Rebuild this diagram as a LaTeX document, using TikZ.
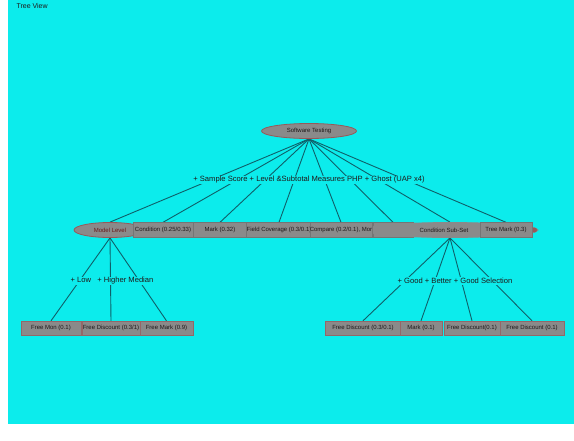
\documentclass[tikz,border=0pt]{standalone}
\usepackage{fontspec}
\setmainfont{Liberation Sans}
\usetikzlibrary{shapes.geometric}
\definecolor{bgcyan}{RGB}{12,236,236}
\definecolor{nodegray}{RGB}{138,138,138}
\definecolor{rimred}{RGB}{150,90,90}
\definecolor{edgeteal}{RGB}{15,95,105}
\definecolor{inkdark}{RGB}{30,25,25}
\definecolor{inkred}{RGB}{105,25,25}
\pgfdeclarelayer{back}
\pgfdeclarelayer{edges}
\pgfsetlayers{back,edges,main}
\tikzset{
  x=1pt, y=-1pt,
  txt/.style={font=\fontsize{7}{8}\selectfont, text=inkdark},
  ellnode/.style={ellipse, fill=nodegray, draw=rimred, line width=0.8pt,
    inner sep=0pt, minimum height=15pt, font=\fontsize{6}{7}\selectfont, text=inkred},
  boxnode/.style={rectangle, fill=nodegray, draw=nodegray!85!black, line width=0.4pt,
    inner sep=0pt, minimum height=15pt, font=\fontsize{6}{7}\selectfont, text=inkdark},
  leafnode/.style={boxnode, draw=rimred!70!nodegray, minimum height=14pt},
  edgelabel/.style={font=\fontsize{7.6}{9}\selectfont, text=inkdark, fill=bgcyan, inner sep=0.8pt},
  link/.style={draw=edgeteal, line width=0.9pt},
}
\begin{document}
\begin{tikzpicture}
\useasboundingbox (0,0) rectangle (574,440);
\begin{pgfonlayer}{back}
  \fill[white] (0,0) rectangle (574,440);
  \fill[bgcyan] (8,0) rectangle (574,424);
\end{pgfonlayer}

\node[txt, anchor=west] (title) at (13,6) {Tree View};

% root
\node[ellnode, minimum width=95pt, text=inkdark] (root) at (309,131) {Software Testing};

% first level: the wide ellipse and the hidden box go underneath
\node[boxnode, minimum width=40pt] (c5) at (393,230) {};
\node[ellnode, minimum width=176pt, draw=nodegray] (sub) at (450,230) {};
\fill[rimred] (sub.east) ++(-4,0) circle[radius=2.5pt];
\node[ellnode, minimum width=72pt] (model) at (110,230) {Model Level};
\node[boxnode, minimum width=60pt] (c1) at (163,230) {Condition (0.25/0.33)};
\node[boxnode, minimum width=54pt] (c2) at (220,230) {Mark (0.32)};
\node[boxnode, minimum width=64pt] (c3) at (279,230) {Field Coverage (0.3/0.1)};
\node[boxnode, minimum width=60pt] (c4) at (341,230) {Compare (0.2/0.1), Mor};
\node[font=\fontsize{6}{7}\selectfont, text=inkdark] (subtext) at (444,230) {Condition Sub-Set};
\node[boxnode, minimum width=52pt] (tm) at (506,230) {Tree Mark (0.3)};

% children of Model Level
\node[leafnode, minimum width=60pt] (l1) at (51,328) {Free Mon (0.1)};
\node[leafnode, minimum width=58pt] (l2) at (111,328) {Free Discount (0.3/1)};
\node[leafnode, minimum width=53pt] (l3) at (166.5,328) {Free Mark (0.9)};

% children of Condition Sub-Set
\node[leafnode, minimum width=75pt] (r1) at (363,328) {Free Discount (0.3/0.1)};
\node[leafnode, minimum width=42pt] (r2) at (421,328) {Mark (0.1)};
\node[leafnode, minimum width=56pt] (r3) at (472,328) {Free Discount(0.1)};
\node[leafnode, minimum width=64pt] (r4) at (532,328) {Free Discount (0.1)};

% connectors
\begin{pgfonlayer}{edges}
  \foreach \t in {model,c1,c2,c3,c4,c5,sub,tm}
    \draw[link] (root.south) -- (\t.north);
  \foreach \t in {l1,l2,l3}
    \draw[link] (model.south) -- (\t.north);
  \foreach \t in {r1,r2,r3,r4}
    \draw[link] (sub.south) -- (\t.north);
\end{pgfonlayer}

% edge labels
\node[edgelabel] (lab0) at (309,180) {+ Sample Score + Level \&Subtotal Measures PHP + Ghost (UAP x4)};
\node[edgelabel] (lab1) at (112,281) {+ Low \ \ + Higher Median};
\node[edgelabel] (lab2) at (455,281) {+ Good + Better + Good Selection};
\end{tikzpicture}
\end{document}
